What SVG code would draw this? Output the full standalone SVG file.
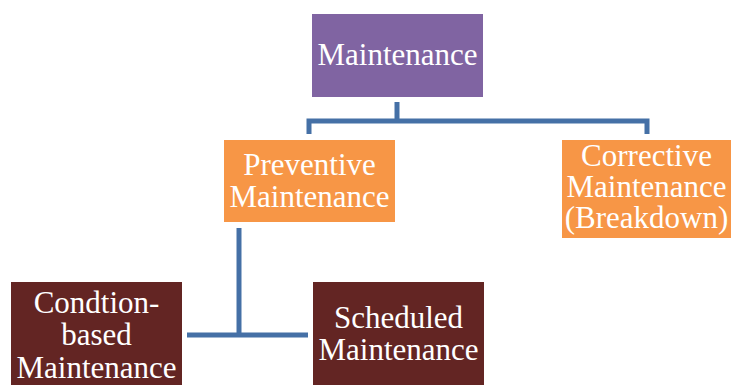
<svg xmlns="http://www.w3.org/2000/svg" width="731" height="385" viewBox="0 0 731 385">
  <style>
    .lbl { font-family: 'Liberation Serif', 'Tinos', 'Times New Roman', Times, 'DejaVu Serif', serif; font-size: 31px; fill: #ffffff; text-anchor: middle; }
    .purple { fill: #8064a2; }
    .orange { fill: #f79646; }
    .maroon { fill: #632523; }
    .conn { fill: none; stroke: #4570a6; stroke-width: 5; stroke-linejoin: miter; }
  </style>
  <rect width="731" height="385" fill="#ffffff"/>

  <g id="connectors">
    <path class="conn" d="M397 102 V121"/>
    <path class="conn" d="M309 134 V121 H647 V134"/>
    <path class="conn" d="M239 228 V335"/>
    <path class="conn" d="M187 335 H308"/>
  </g>

  <g id="maintenance">
    <rect class="purple" x="312" y="14" width="171" height="83"/>
    <text class="lbl" x="397.5" y="65">Maintenance</text>
  </g>

  <g id="preventive">
    <rect class="orange" x="224" y="140" width="171" height="82"/>
    <text class="lbl" x="309.5" y="175">Preventive</text>
    <text class="lbl" x="309.5" y="207">Maintenance</text>
  </g>

  <g id="corrective">
    <rect class="orange" x="562" y="140" width="169" height="98"/>
    <text class="lbl" x="646.5" y="166">Corrective</text>
    <text class="lbl" x="646.5" y="197">Maintenance</text>
    <text class="lbl" x="646.5" y="228">(Breakdown)</text>
  </g>

  <g id="condition-based">
    <rect class="maroon" x="11" y="282" width="171" height="103"/>
    <text class="lbl" x="96.5" y="313">Condtion-</text>
    <text class="lbl" x="96.5" y="345">based</text>
    <text class="lbl" x="96.5" y="378">Maintenance</text>
  </g>

  <g id="scheduled">
    <rect class="maroon" x="313" y="282" width="171" height="103"/>
    <text class="lbl" x="398.5" y="328">Scheduled</text>
    <text class="lbl" x="398.5" y="360">Maintenance</text>
  </g>
</svg>
